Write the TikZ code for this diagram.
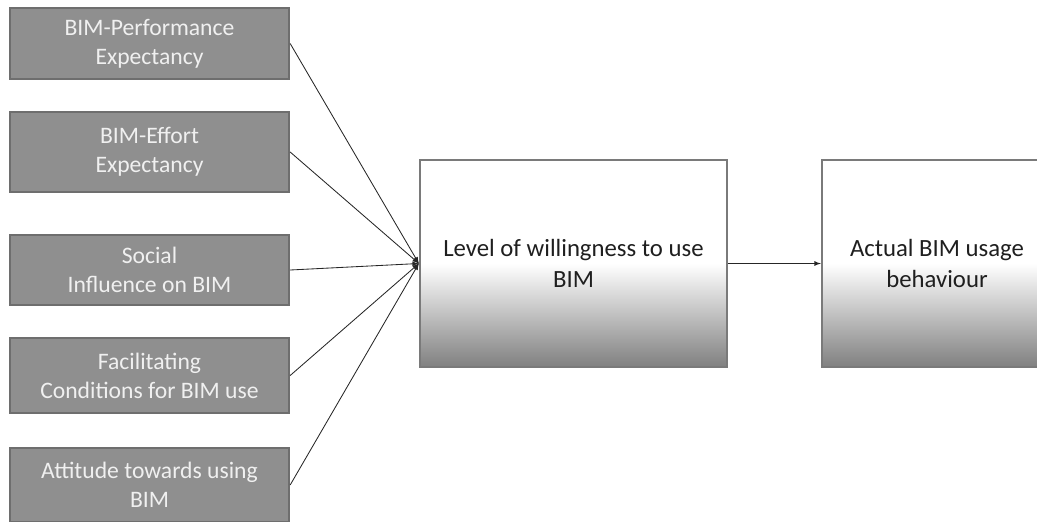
\documentclass[tikz,border=0pt]{standalone}
\usepackage{fontspec}
\setmainfont{Carlito}

\definecolor{boxfill}{HTML}{8F8F8F}
\definecolor{boxedge}{HTML}{6E6E6E}
\definecolor{stageedge}{HTML}{7A7A7A}
\definecolor{stagebot}{HTML}{808080}

\begin{document}
\begin{tikzpicture}[x=0.025cm, y=-0.025cm,
    factor/.style={draw=boxedge, line width=1.6pt, fill=boxfill, text=white!94!black,
      align=center, minimum width=6.975cm, inner sep=0pt,
      font=\fontsize{16.8}{20.6}\selectfont},
    stage/.style={draw=stageedge, line width=1.6pt, top color=white, bottom color=stagebot,
      middle color=white, align=center, text=black!88, inner sep=0pt,
      minimum height=5.175cm, font=\fontsize{17.6}{22.5}\selectfont},
    link/.style={-latex, draw=black!85, line width=0.6pt}]
    \useasboundingbox (0,0) rectangle (1037,521);
    \clip (0,0) rectangle (1037,521);
    % factors on the left
    \node[factor, minimum height=1.775cm] (perf)   at (149.5, 43.5) {BIM-Performance\\Expectancy};
    \node[factor, minimum height=2cm]     (effort) at (149.5,152)   {BIM-Effort\\Expectancy};
    \node[factor, minimum height=1.75cm]  (social) at (149.5,270)   {Social\\Influence on BIM};
    \node[factor, minimum height=1.875cm] (facil)  at (149.5,375.5) {Facilitating\\Conditions for BIM use};
    \node[factor, minimum height=1.85cm]  (attit)  at (149.5,485)   {Attitude towards using\\BIM};
    % willingness and usage
    \node[stage, minimum width=7.675cm] (will)  at (573.5,263.5) {Level of willingness to use\\BIM};
    \node[stage, minimum width=5.75cm]  (usage) at (937,263.5)   {Actual BIM usage\\behaviour};
    % links
    \draw[link] (perf.east)   -- (will.west);
    \draw[link] (effort.east) -- (will.west);
    \draw[link] (social.east) -- (will.west);
    \draw[link] (facil.east)  -- (will.west);
    \draw[link] (attit.east)  -- (will.west);
    \draw[link] (will.east)   -- (usage.west);
\end{tikzpicture}
\end{document}
